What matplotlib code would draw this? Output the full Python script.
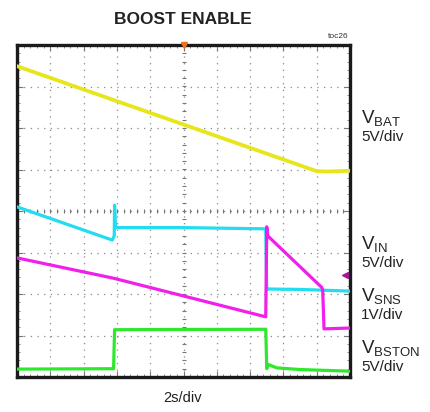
import numpy as np
import matplotlib
matplotlib.use("Agg")
import matplotlib.pyplot as plt

# trace breakpoints, in screen divisions (x: 0..10, y: 0..8 from bottom)
vbat_x = [0.0, 9.0, 9.3, 10.0]
vbat_y = [7.49, 4.96, 4.95, 4.97]

vin_x = [0.0, 2.86, 2.92, 2.93, 2.96, 5.0, 7.45, 7.47, 7.50, 7.55, 8.5, 10.0]
vin_y = [4.10, 3.30, 3.40, 4.14, 3.60, 3.60, 3.57, 3.55, 2.10, 2.12, 2.11, 2.07]

vsns_x = [0.0, 2.9, 7.47, 7.50, 7.53, 9.15, 9.18, 9.22, 10.0]
vsns_y = [2.87, 2.38, 1.45, 3.62, 3.40, 2.16, 2.10, 1.16, 1.18]

vbst_x = [0.0, 2.9, 2.93, 7.47, 7.50, 7.55, 7.8, 8.5, 10.0]
vbst_y = [0.19, 0.20, 1.14, 1.15, 0.20, 0.30, 0.22, 0.18, 0.14]

labels = [("BAT", "5V/div"), ("IN", "5V/div"), ("SNS", "1V/div"), ("BSTON", "5V/div")]
label_y = [118, 244, 296, 348]  # pixel rows of the channel labels

plt.rcParams["font.family"] = ["Liberation Sans", "DejaVu Sans"]

fig = plt.figure(figsize=(4.30, 4.12), dpi=100)
ax = fig.add_axes([17 / 430, 1 - 377 / 412, 333 / 430, 332 / 412])
ax.set_xlim(0, 10)
ax.set_ylim(0, 8)

# dotted graticule
for gx in range(1, 10):
    ax.axvline(gx, color="#8a8a8a", lw=0.9, dashes=(1.0, 4.33), zorder=1)
for gy in range(1, 8):
    ax.axhline(gy, color="#8a8a8a", lw=0.9, dashes=(1.0, 4.33), zorder=1)

# center cross tick marks
mx = np.arange(0.2, 10, 0.2)
my = np.arange(0.2, 8, 0.2)
ax.plot(mx, np.full_like(mx, 4), ls="none", marker="|", ms=3.5, mew=0.8, color="#777777", zorder=1)
ax.plot(np.full_like(my, 5), my, ls="none", marker="_", ms=3.5, mew=0.8, color="#777777", zorder=1)

ax.plot(vbat_x, vbat_y, color="#e6e61a", lw=2.7, zorder=3)
ax.plot(vin_x, vin_y, color="#22dcf0", lw=2.3, zorder=3)
ax.plot(vsns_x, vsns_y, color="#f020ea", lw=2.3, zorder=4)
ax.plot(vbst_x, vbst_y, color="#2ee82e", lw=2.3, zorder=3)

# trigger marker and channel marker
ax.plot([5], [8], marker="v", ms=5, color="#f07020", clip_on=False, zorder=5)
ax.plot([9.85], [2.46], marker="<", ms=5, color="#a0189a", zorder=5)

ax.set_xticks(range(11))
ax.set_yticks(range(9))
ax.set_xticks(np.arange(0, 10.01, 0.2), minor=True)
ax.set_yticks(np.arange(0, 8.01, 0.2), minor=True)
ax.tick_params(which="both", direction="in", top=True, right=True,
               labelbottom=False, labelleft=False, color="#777777")
ax.tick_params(which="major", length=4)
ax.tick_params(which="minor", length=2)
for s in ax.spines.values():
    s.set_linewidth(2.4)
    s.set_color("#1a1a1a")

fig.text(183 / 430, 1 - 19 / 412, "BOOST ENABLE", ha="center", va="center",
         fontsize=12.5, fontweight="bold", color="#222222")
fig.text(349 / 430, 1 - 36 / 412, "toc26", ha="right", va="center",
         fontsize=6, color="#333333")
fig.text(183 / 430, 1 - 398 / 412, "2s/div", ha="center", va="center",
         fontsize=10.5, color="#222222")

for (sub, scale), py in zip(labels, label_y):
    fig.text(361 / 430, 1 - py / 412, r"$\mathregular{V_{%s}}$" % sub, ha="left",
             va="center", fontsize=13.5, color="#222222")
    fig.text(361 / 430, 1 - (py + 19) / 412, scale, ha="left", va="center",
             fontsize=11, color="#222222")

fig.savefig("out.png", dpi=100)
